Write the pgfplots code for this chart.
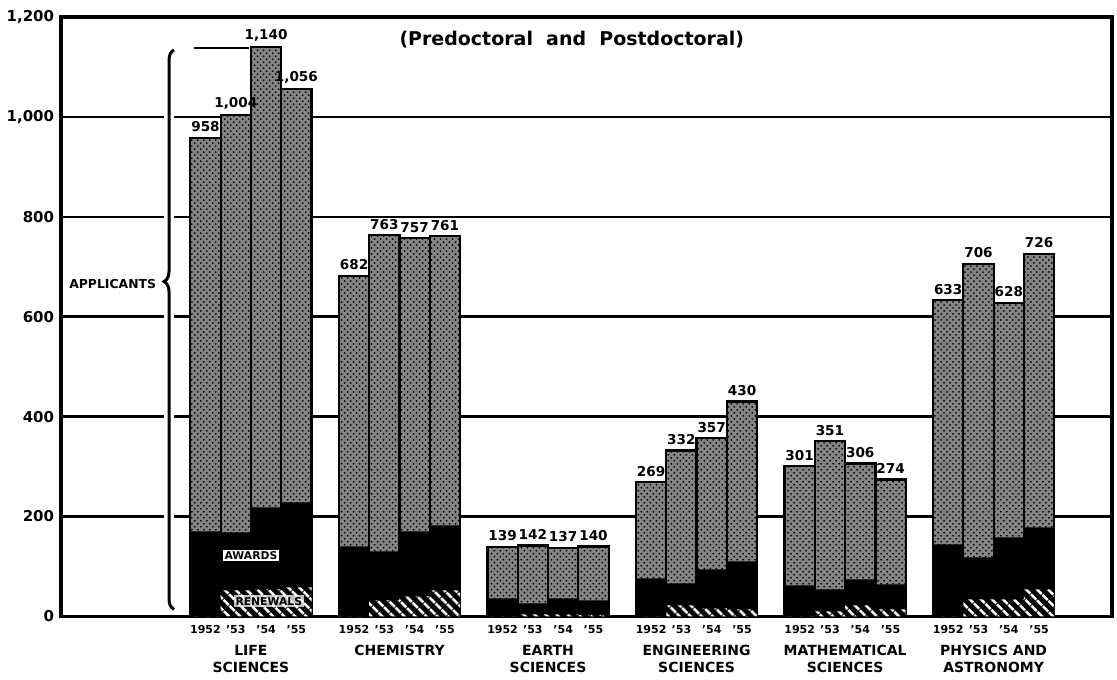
\documentclass[border=0pt]{standalone}
\usepackage{fontspec}
\setmainfont{DejaVu Sans}
\usepackage{pgfplots}
\usepackage{pgfplotstable}
\pgfplotsset{compat=1.18}
\usetikzlibrary{patterns,patterns.meta,decorations.pathreplacing}

\pgfplotstableread{
x total awards renew
-0.306 958 170 0
-0.102 1004 168 52
0.102 1140 218 54
0.306 1056 228 58
0.694 682 140 0
0.898 763 130 32
1.102 757 170 40
1.306 761 182 52
1.694 139 36 0
1.898 142 26 4
2.102 137 36 4
2.306 140 32 3
2.694 269 76 0
2.898 332 66 22
3.102 357 94 16
3.306 430 110 14
3.694 301 62 0
3.898 351 54 10
4.102 306 74 22
4.306 274 64 14
4.694 633 144 0
4.898 706 118 34
5.102 628 158 34
5.306 726 178 54
}\data

\begin{document}
\begin{tikzpicture}
\begin{axis}[
  name=ax,
  scale only axis, width=526pt, height=300pt,
  xmin=-1.278, xmax=5.797, ymin=0, ymax=1200,
  clip=false,
  axis on top=false,
  ytick={0,200,...,1200},
  ymajorgrids, grid style={black, line width=1.2pt},
  axis line style={line width=1.7pt},
  major tick length=0pt,
  /pgf/number format/1000 sep={,},
  /pgf/number format/assume math mode=true,
  yticklabel style={font=\fontsize{7.5}{9}\selectfont\bfseries},
  xtick={-0.306,-0.102,0.102,0.306,0.694,0.898,1.102,1.306,1.694,1.898,2.102,2.306,2.694,2.898,3.102,3.306,3.694,3.898,4.102,4.306,4.694,4.898,5.102,5.306},
  xticklabels={1952,'53,'54,'55,1952,'53,'54,'55,1952,'53,'54,'55,1952,'53,'54,'55,1952,'53,'54,'55,1952,'53,'54,'55},
  xticklabel style={font=\fontsize{5.5}{6.5}\selectfont\bfseries, yshift=-1pt},
  extra x ticks={0,1,2,3,4,5},
  extra x tick labels={{LIFE\\SCIENCES},{CHEMISTRY},{EARTH\\SCIENCES},{ENGINEERING\\SCIENCES},{MATHEMATICAL\\SCIENCES},{PHYSICS AND\\ASTRONOMY}},
  extra x tick style={major tick length=0pt, xticklabel style={font=\fontsize{7}{8.5}\selectfont\bfseries, align=center, yshift=-10pt}},
  bar width=0.204,
]
\addplot[ybar, bar shift=0pt, draw=black, line width=1.1pt, fill=black!48,
  postaction={pattern=crosshatch dots, pattern color=black},
  nodes near coords,
  nodes near coords style={font=\fontsize{6.8}{8}\selectfont\bfseries, anchor=south, yshift=-1pt}]
  table[x=x, y=total] {\data};
\addplot[ybar, bar shift=0pt, draw=none, fill=black] table[x=x, y=awards] {\data};
\addplot[ybar, bar shift=0pt, draw=none, fill=black,
  postaction={pattern={Lines[angle=-45, distance=4pt, line width=1.4pt]}, pattern color=white}]
  table[x=x, y=renew] {\data};

\node[font=\fontsize{9.5}{11}\selectfont\bfseries] at (axis cs:2.16,1154) {(Predoctoral \ and \ Postdoctoral)};
\node[font=\fontsize{6.2}{7}\selectfont\bfseries] at (axis cs:-0.931,666) {APPLICANTS};
\node[font=\fontsize{5.4}{6}\selectfont\bfseries, fill=white, draw=black, inner sep=1pt] at (axis cs:0,122) {AWARDS};
\node[font=\fontsize{5.4}{6}\selectfont\bfseries, fill=white, fill opacity=0.75, text opacity=1, inner sep=1pt] at (axis cs:0.12,30) {RENEWALS};
\draw[white, line width=5pt, decorate, decoration={brace, amplitude=5pt, aspect=0.586}] (axis cs:-0.518,14) -- (axis cs:-0.518,1134);
\draw[black, line width=1.5pt, decorate, decoration={brace, amplitude=5pt, aspect=0.586}] (axis cs:-0.518,14) -- (axis cs:-0.518,1134);
\draw[black, line width=1.4pt] (axis cs:-0.384,1138) -- (axis cs:-0.013,1138);
\end{axis}
\path (ax.south west) ++(-30pt,-31.5pt) rectangle ++(558.5pt,340pt);
\end{tikzpicture}
\end{document}
